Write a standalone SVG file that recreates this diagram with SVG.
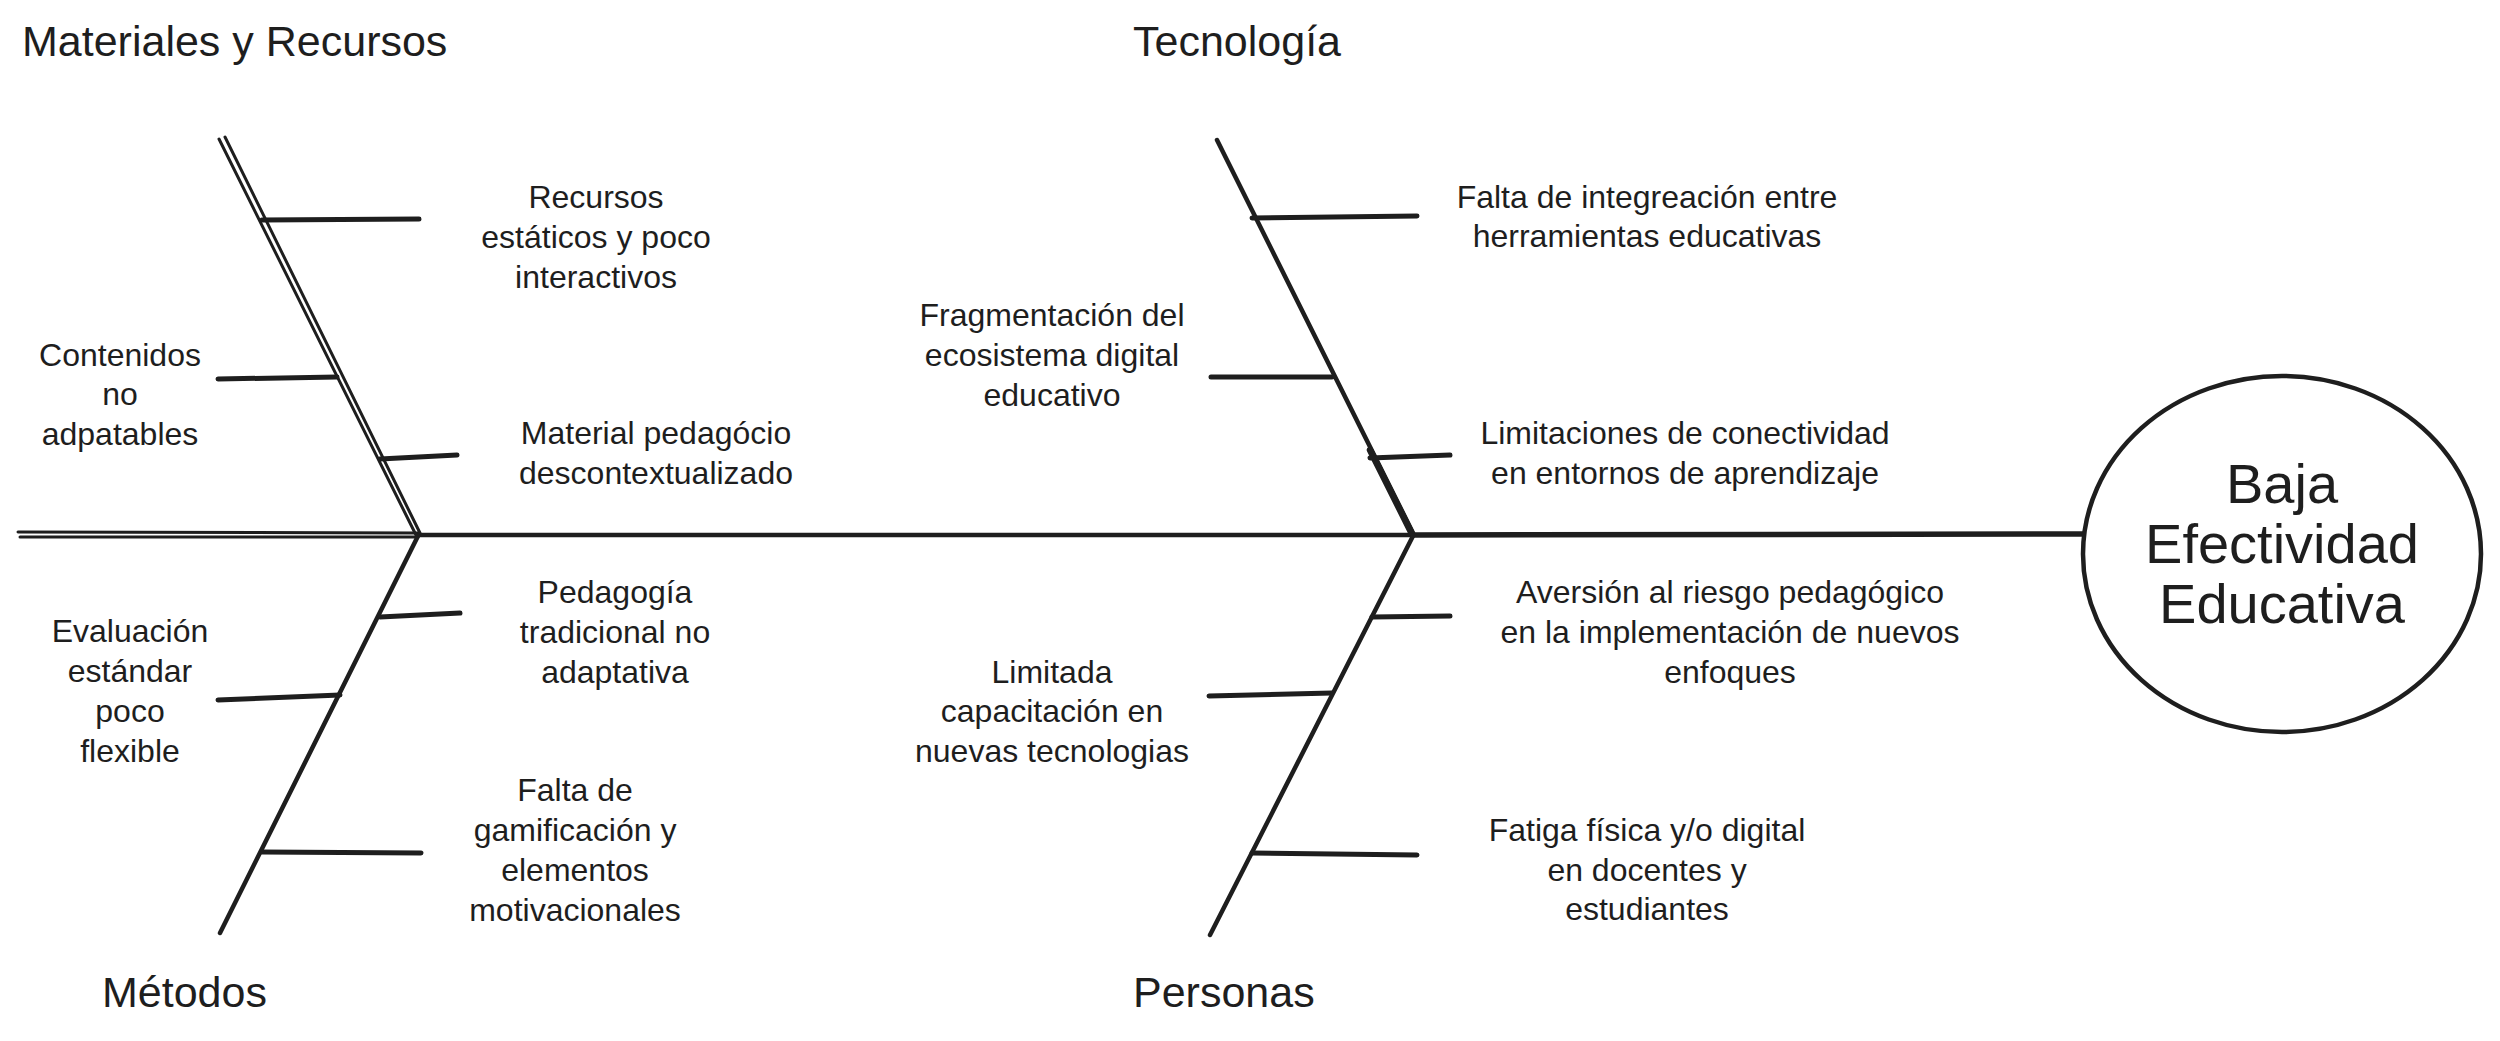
<svg xmlns="http://www.w3.org/2000/svg" width="2500" height="1041" viewBox="0 0 2500 1041">
<style>
text{font-family:"Liberation Sans",Arial,sans-serif;fill:#1e1e1e;}
.t{font-size:43px;}
.l{font-size:32px;text-anchor:middle;}
.h{font-size:56px;text-anchor:middle;}
.bone{stroke:#1e1e1e;stroke-width:4.5;stroke-linecap:round;fill:none;}
.thin{stroke:#1e1e1e;stroke-width:3;stroke-linecap:round;fill:none;}
.rib{stroke:#1e1e1e;stroke-width:5;stroke-linecap:round;fill:none;}
</style>
<rect width="2500" height="1041" fill="#ffffff"/>
<g id="connectors">
  <line class="thin" x1="18" y1="532" x2="418" y2="533"/>
  <line class="thin" x1="20" y1="537" x2="418" y2="537"/>
  <line class="bone" x1="418" y1="535" x2="1413" y2="535"/>
  <line class="bone" x1="1413" y1="535" x2="2083" y2="534" style="stroke-width:5.5"/>
  <line class="thin" x1="219" y1="139" x2="416" y2="535"/>
  <line class="thin" x1="225" y1="137" x2="420" y2="533"/>
  <line class="bone" x1="418" y1="536" x2="220" y2="933"/>
  <line class="bone" x1="1217" y1="140" x2="1413" y2="533"/>
  <line class="bone" x1="1370" y1="450" x2="1411" y2="532" style="stroke-width:6.5"/>
  <line class="bone" x1="1413" y1="536" x2="1210" y2="935"/>
  <line class="rib" x1="262" y1="220" x2="419" y2="219"/>
  <line class="rib" x1="218" y1="379" x2="337" y2="377"/>
  <line class="rib" x1="380" y1="459" x2="457" y2="455"/>
  <line class="rib" x1="380" y1="617" x2="460" y2="613"/>
  <line class="rib" x1="218" y1="700" x2="340" y2="695"/>
  <line class="rib" x1="262" y1="852" x2="421" y2="853"/>
  <line class="rib" x1="1252" y1="218" x2="1417" y2="216"/>
  <line class="rib" x1="1211" y1="377" x2="1332" y2="377"/>
  <line class="rib" x1="1370" y1="458" x2="1450" y2="455"/>
  <line class="rib" x1="1372" y1="617" x2="1450" y2="616"/>
  <line class="rib" x1="1209" y1="696" x2="1332" y2="693"/>
  <line class="rib" x1="1252" y1="853" x2="1417" y2="855"/>
</g>
<g id="title-materiales"><text class="t" x="22" y="56">Materiales y Recursos</text></g>
<g id="title-tecnologia"><text class="t" x="1133" y="56">Tecnología</text></g>
<g id="title-metodos"><text class="t" x="102" y="1007">Métodos</text></g>
<g id="title-personas"><text class="t" x="1133" y="1007">Personas</text></g>
<g id="head">
  <ellipse cx="2282" cy="554" rx="199" ry="178" fill="none" stroke="#1e1e1e" stroke-width="4.5"/>
  <text class="h" x="2282" y="503">Baja</text>
  <text class="h" x="2282" y="563">Efectividad</text>
  <text class="h" x="2282" y="623">Educativa</text>
</g>
<g id="cause-recursos-estaticos">
  <text class="l" x="596" y="208">Recursos</text>
  <text class="l" x="596" y="248">estáticos y poco</text>
  <text class="l" x="596" y="288">interactivos</text>
</g>
<g id="cause-contenidos">
  <text class="l" x="120" y="366">Contenidos</text>
  <text class="l" x="120" y="405">no</text>
  <text class="l" x="120" y="445">adpatables</text>
</g>
<g id="cause-material">
  <text class="l" x="656" y="444">Material pedagócio</text>
  <text class="l" x="656" y="484">descontextualizado</text>
</g>
<g id="cause-integracion">
  <text class="l" x="1647" y="208">Falta de integreación entre</text>
  <text class="l" x="1647" y="247">herramientas educativas</text>
</g>
<g id="cause-fragmentacion">
  <text class="l" x="1052" y="326">Fragmentación del</text>
  <text class="l" x="1052" y="366">ecosistema digital</text>
  <text class="l" x="1052" y="406">educativo</text>
</g>
<g id="cause-conectividad">
  <text class="l" x="1685" y="444">Limitaciones de conectividad</text>
  <text class="l" x="1685" y="484">en entornos de aprendizaje</text>
</g>
<g id="cause-pedagogia">
  <text class="l" x="615" y="603">Pedagogía</text>
  <text class="l" x="615" y="643">tradicional no</text>
  <text class="l" x="615" y="683">adaptativa</text>
</g>
<g id="cause-evaluacion">
  <text class="l" x="130" y="642">Evaluación</text>
  <text class="l" x="130" y="682">estándar</text>
  <text class="l" x="130" y="722">poco</text>
  <text class="l" x="130" y="762">flexible</text>
</g>
<g id="cause-gamificacion">
  <text class="l" x="575" y="801">Falta de</text>
  <text class="l" x="575" y="841">gamificación y</text>
  <text class="l" x="575" y="881">elementos</text>
  <text class="l" x="575" y="921">motivacionales</text>
</g>
<g id="cause-aversion">
  <text class="l" x="1730" y="603">Aversión al riesgo pedagógico</text>
  <text class="l" x="1730" y="643">en la implementación de nuevos</text>
  <text class="l" x="1730" y="683">enfoques</text>
</g>
<g id="cause-capacitacion">
  <text class="l" x="1052" y="683">Limitada</text>
  <text class="l" x="1052" y="722">capacitación en</text>
  <text class="l" x="1052" y="762">nuevas tecnologias</text>
</g>
<g id="cause-fatiga">
  <text class="l" x="1647" y="841">Fatiga física y/o digital</text>
  <text class="l" x="1647" y="881">en docentes y</text>
  <text class="l" x="1647" y="920">estudiantes</text>
</g>
</svg>
